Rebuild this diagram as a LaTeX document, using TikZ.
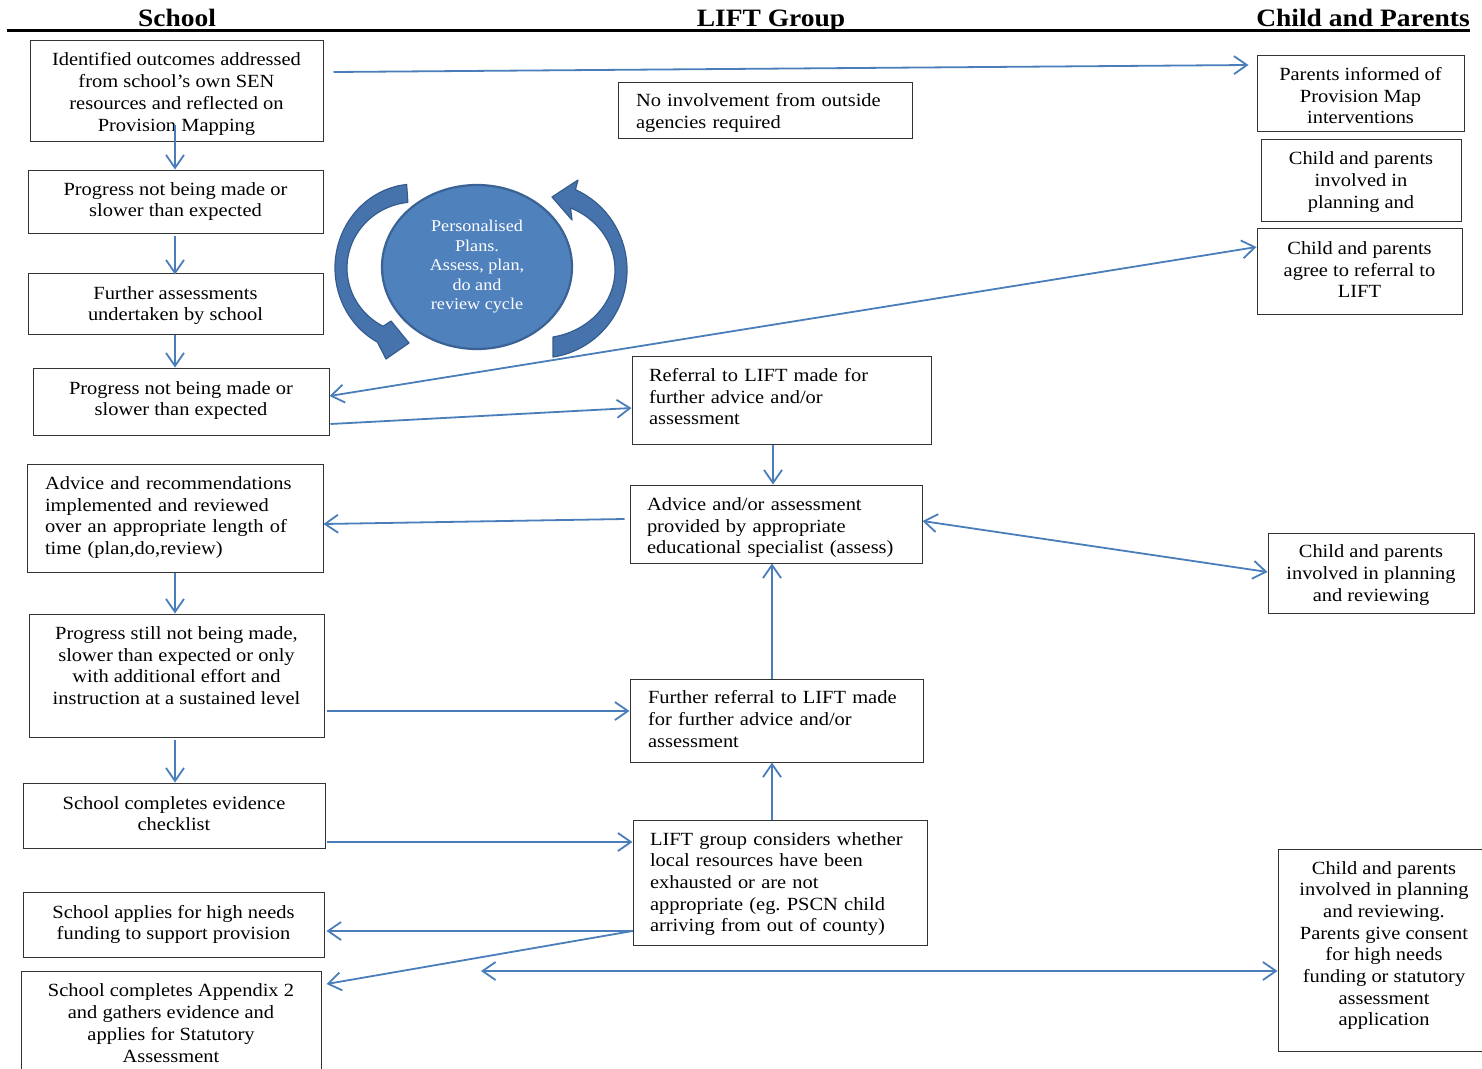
\documentclass[tikz,border=0pt]{standalone}
\usepackage{fontspec}
\setmainfont[FakeStretch=1.1]{Liberation Serif}
\usetikzlibrary{arrows.meta,shapes.geometric,calc}
\definecolor{lineblue}{HTML}{4A7EBB}
\definecolor{circfill}{HTML}{4F81BD}
\definecolor{circedge}{HTML}{3A6294}
\definecolor{arcfill}{HTML}{4673AB}
\definecolor{arcedge}{HTML}{355C8E}
\frenchspacing
\newcommand\bxfont{\fontsize{18.6pt}{21.7pt}\selectfont}
\newcommand\hdfont{\fontsize{25pt}{28pt}\selectfont\bfseries}
\newcommand\cifont{\fontsize{16.5pt}{19.5pt}\selectfont}
\newcommand\tp{\vrule width 0pt height 20pt depth 0pt}
\tikzset{
  box/.style={draw=black!80, line width=1pt, inner sep=0pt, font=\bxfont, align=center},
  lbox/.style={box, align=left},
  tx/.style={execute at end node={\vrule width 0pt height 0pt depth #1}},
  hdr/.style={font=\hdfont, anchor=base, inner sep=0pt},
  arr/.style={draw=lineblue, line width=1.8pt, -{Straight Barb[length=13pt,width=18pt]}},
  arrb/.style={draw=lineblue, line width=1.8pt, {Straight Barb[length=13pt,width=18pt]}-{Straight Barb[length=13pt,width=18pt]}},
  carrow/.style={fill=arcfill, draw=arcedge, line width=1.2pt, line join=round},
  cyc/.style={ellipse, fill=circfill, draw=circedge, line width=2.2pt, text=white, font=\cifont, align=center, inner sep=0pt}
}
\begin{document}
\begin{tikzpicture}[x=1pt,y=1pt]
\useasboundingbox (0,0) rectangle (1482,-1068);
\fill[white] (0,0) rectangle (1482,-1068);

% headers
\node[hdr] (hs) at (177,-27) {School};
\node[hdr] (hl) at (771,-27) {LIFT Group};
\node[hdr] (hc) at (1363,-27) {Child and Parents};
\draw[line width=3pt] (7,-30.5) -- (1470,-30.5);

% school column
\node[box, tx=4pt, minimum width=293pt, minimum height=101pt] (b1) at (176.5,-90.5)
  {\tp Identified outcomes addressed\\from school’s own SEN\\resources and reflected on\\Provision Mapping};
\node[box, tx=11pt, minimum width=295pt, minimum height=63pt] (b2) at (175.5,-201.5)
  {\tp Progress not being made or\\slower than expected};
\node[box, tx=7pt, minimum width=295pt, minimum height=61pt] (b3) at (175.5,-303.5)
  {\tp Further assessments\\undertaken by school};
\node[box, tx=13pt, minimum width=296pt, minimum height=67pt] (b4) at (181,-401.5)
  {\tp Progress not being made or\\slower than expected};
\node[lbox, tx=12pt, minimum width=296pt, minimum height=108pt, text width=260pt] (b5) at (175,-518)
  {\tp Advice and recommendations\\implemented and reviewed\\over an appropriate length of\\time (plan,do,review)};
\node[box, tx=27pt, minimum width=295pt, minimum height=123pt] (b6) at (176.5,-675.5)
  {\tp Progress still not being made,\\slower than expected or only\\with additional effort and\\instruction at a sustained level};
\node[box, tx=11pt, minimum width=302pt, minimum height=65pt] (b7) at (174,-815.5)
  {\tp School completes evidence\\checklist};
\node[box, tx=11pt, minimum width=301pt, minimum height=65pt] (b8) at (173.5,-924.5)
  {\tp School applies for high needs\\funding to support provision};
\node[box, tx=14pt, minimum width=300pt, minimum height=111pt] (b9) at (171,-1026.5)
  {\tp School completes Appendix 2\\and gathers evidence and\\applies for Statutory\\Assessment};

% LIFT column
\node[lbox, tx=5pt, minimum width=294pt, minimum height=56pt, text width=258pt] (b10) at (765,-110)
  {\tp No involvement from outside\\agencies required};
\node[lbox, tx=14pt, minimum width=299pt, minimum height=88pt, text width=265pt] (b11) at (781.5,-400)
  {\tp Referral to LIFT made for\\further advice and/or\\assessment};
\node[lbox, tx=4pt, minimum width=292pt, minimum height=78pt, text width=258pt] (b12) at (776,-524)
  {\tp Advice and/or assessment\\provided by appropriate\\educational specialist (assess)};
\node[lbox, tx=10pt, minimum width=293pt, minimum height=83pt, text width=257pt] (b13) at (776.5,-720.5)
  {\tp Further referral to LIFT made\\for further advice and/or\\assessment};
\node[lbox, tx=8pt, minimum width=294pt, minimum height=125pt, text width=260pt] (b14) at (780,-882.5)
  {\tp LIFT group considers whether\\local resources have been\\exhausted or are not\\appropriate (eg. PSCN child\\arriving from out of county)};

% child and parents column
\node[box, tx=2pt, minimum width=207pt, minimum height=76pt] (b15) at (1360.5,-93)
  {\tp Parents informed of\\Provision Map\\interventions};
\node[box, tx=7pt, minimum width=200pt, minimum height=82pt] (b16) at (1361,-180)
  {\tp Child and parents\\involved in\\planning and};
\node[box, tx=10pt, minimum width=205pt, minimum height=86pt] (b17) at (1359.5,-271)
  {\tp Child and parents\\agree to referral to\\LIFT};
\node[box, tx=7pt, minimum width=206pt, minimum height=80pt] (b18) at (1371,-573)
  {\tp Child and parents\\involved in planning\\and reviewing};
\node[box, tx=20pt, minimum width=212pt, minimum height=202pt] (b19) at (1384,-950)
  {\tp Child and parents\\involved in planning\\and reviewing.\\Parents give consent\\for high needs\\funding or statutory\\assessment\\application};

% cycle graphic
\fill[carrow] (415,-268) ++(96:80pt and 84pt)
  arc[start angle=96, end angle=242, x radius=80pt, y radius=84pt]
  -- (386,-359) -- (409,-343) -- (391,-321)
  -- ($(415,-268)+(242:68pt and 66pt)$)
  arc[start angle=242, end angle=96, x radius=68pt, y radius=66pt] -- cycle;
\fill[carrow] (540,-270) ++(-81.4:87pt and 88pt)
  arc[start angle=-81.4, end angle=66, x radius=87pt, y radius=88pt]
  -- (578,-180) -- (552,-197) -- (572,-220)
  -- ($(540,-270)+(66:75pt and 68pt)$)
  arc[start angle=66, end angle=-80, x radius=75pt, y radius=68pt] -- cycle;
\node[cyc, minimum width=190pt, minimum height=164pt] (cyc) at (477,-267)
  {Personalised\\Plans.\\Assess, plan,\\do and\\review cycle};

% connectors
\coordinate (c12) at (175,-125);
\coordinate (cb) at (481,-971);
\draw[arr] ([xshift=10pt,yshift=18.5pt]b1.east) -- ([xshift=-8pt,yshift=28pt]b15.west);
\draw[arr] (c12) -- (c12 |- b2.north);
\draw[arr] ([xshift=-0.5pt,yshift=-2pt]b2.south) -- ([xshift=-0.5pt,yshift=-2pt]b2.south |- b3.north);
\draw[arr] ([xshift=-0.5pt]b3.south) -- ([xshift=-0.5pt]b3.south |- b4.north);
\draw[arrb] ([yshift=24pt]b17.west) -- ([yshift=5.5pt]b4.east);
\draw[arr] ([xshift=1pt,yshift=-22.5pt]b4.east) -- ([yshift=-8pt]b11.west);
\draw[arr] ([xshift=-8.5pt]b11.south) -- ([xshift=-8.5pt]b11.south |- b12.north);
\draw[arr] ([xshift=-5pt,yshift=5pt]b12.west) -- ([yshift=-6pt]b5.east);
\draw[arrb] ([yshift=3pt]b12.east) -- ([yshift=1pt]b18.west);
\draw[arr] (b5.south) -- (b5.south |- b6.north);
\draw[arr] ([xshift=2pt,yshift=-35.5pt]b6.east) -- ([yshift=9.5pt]b13.west);
\draw[arr] ([xshift=-4.5pt]b13.north) -- ([xshift=-4.5pt]b13.north |- b12.south);
\draw[arr] ([xshift=-1.5pt,yshift=-2pt]b6.south) -- ([xshift=-1.5pt]b6.south |- b7.north);
\draw[arr] ([xshift=1pt,yshift=-26.5pt]b7.east) -- ([yshift=40.5pt]b14.west);
\draw[arr] ([xshift=-8pt]b14.north) -- ([xshift=-8pt]b14.north |- b13.south);
\draw[arr] ([yshift=-48.5pt]b14.west) -- ([xshift=2pt,yshift=-6.5pt]b8.east);
\draw[arr] ([yshift=-48.5pt]b14.west) -- ([xshift=5pt,yshift=42.5pt]b9.east);
\draw[arrb] (cb) -- ([yshift=-21pt]b19.west);
\end{tikzpicture}
\end{document}
